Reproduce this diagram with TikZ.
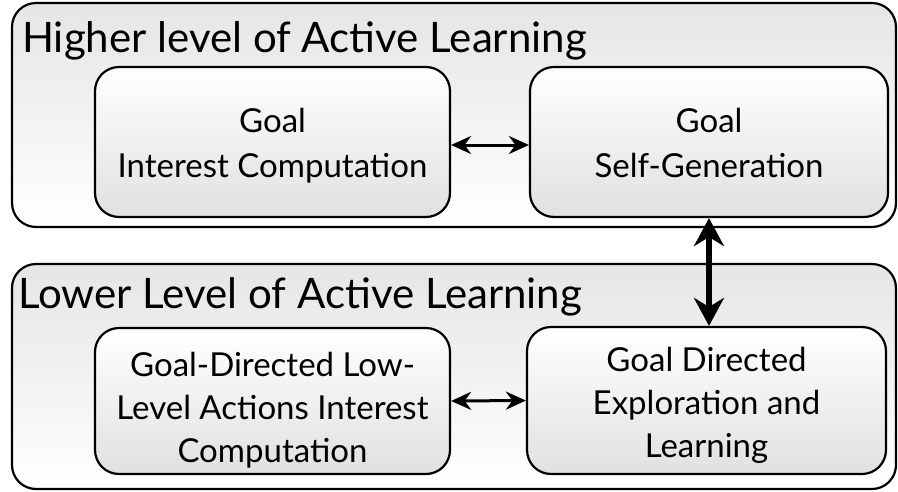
\documentclass[tikz,border=0pt]{standalone}
\usepackage{fontspec}
\setmainfont{Lato}
\usetikzlibrary{arrows.meta}
\begin{document}
\begin{tikzpicture}[x=1pt,y=-1pt,
  outerbox/.style={draw=black, line width=2.2pt, rounded corners=24pt, top color=black!10, bottom color=white, inner sep=0pt},
  innerbox/.style={draw=black, line width=2.2pt, rounded corners=24pt, top color=white, bottom color=black!12, inner sep=0pt},
  boxtext/.style={align=center, inner sep=0pt, anchor=base},
  twoline/.style={boxtext, font=\fontsize{33}{45}\selectfont},
  threeline/.style={boxtext, font=\fontsize{33}{43}\selectfont},
  titletext/.style={font=\fontsize{42}{48}\selectfont, inner sep=0pt, anchor=base west},
  thinarrow/.style={{Stealth[length=20pt,width=18pt]}-{Stealth[length=20pt,width=18pt]}, line width=3pt},
  thickarrow/.style={{Stealth[length=28pt,width=30pt]}-{Stealth[length=28pt,width=30pt]}, line width=6pt}]
\useasboundingbox (0,0) rectangle (898,491);
\node[outerbox, minimum width=884pt, minimum height=224pt] (otop) at (454,115) {};
\node[outerbox, minimum width=884pt, minimum height=225pt] (obot) at (454,376.5) {};
\node[titletext] (ttop) at (22,52) {Higher level of Active Learning};
\node[titletext] (tbot) at (18,308) {Lower Level of Active Learning};
\node[innerbox, minimum width=355pt, minimum height=150pt] (tl) at (272.5,142) {};
\node[innerbox, minimum width=358pt, minimum height=150pt] (tr) at (709,142) {};
\node[innerbox, minimum width=355pt, minimum height=146pt] (bl) at (272.5,401) {};
\node[innerbox, minimum width=359pt, minimum height=147pt] (br) at (706.5,400.5) {};
\node[twoline] (tltext) at ([yshift=-35pt]tl.center) {Goal\\Interest Computation};
\node[twoline] (trtext) at ([yshift=-35pt]tr.center) {Goal\\Self-Generation};
\node[threeline] (bltext) at ([yshift=-61pt]bl.center) {Goal-Directed Low-\\Level Actions Interest\\Computation};
\node[threeline] (brtext) at ([yshift=-56.5pt]br.center) {Goal Directed\\Exploration and\\Learning};
\draw[thinarrow] ([yshift=-3pt]tl.east) -- ([yshift=-3pt]tr.west);
\draw[thinarrow] (bl.east) -- (br.west);
\draw[thickarrow] (tr.south) -- (tr.south |- br.north);
\end{tikzpicture}
\end{document}
